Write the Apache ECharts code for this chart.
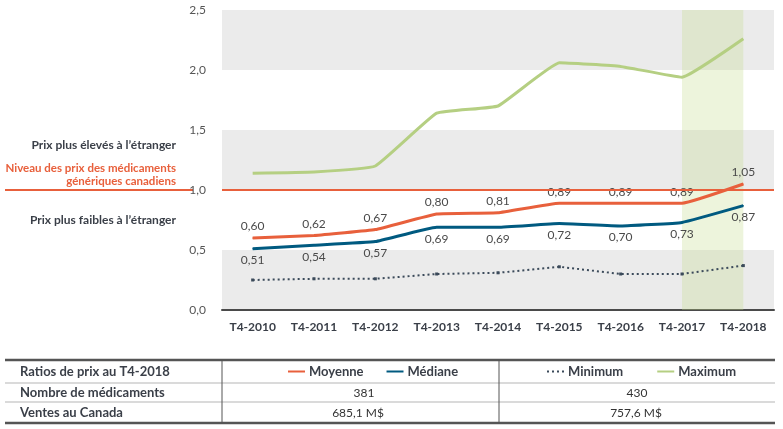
<!DOCTYPE html>
<html>
<head>
<meta charset="utf-8">
<script src="https://cdn.jsdelivr.net/npm/echarts@6/dist/echarts.min.js"></script>
<style>
html,body{margin:0;padding:0;background:#fff;}
#chart{width:783px;height:429px;}
</style>
</head>
<body>
<div id="chart"></div>
<script>
var categories = ['T4-2010','T4-2011','T4-2012','T4-2013','T4-2014','T4-2015','T4-2016','T4-2017','T4-2018'];
var moyenne = [0.60, 0.62, 0.67, 0.80, 0.81, 0.89, 0.89, 0.89, 1.05];
var mediane = [0.51, 0.54, 0.57, 0.69, 0.69, 0.72, 0.70, 0.73, 0.87];
var minimum = [0.25, 0.26, 0.26, 0.30, 0.31, 0.36, 0.30, 0.30, 0.37];
var maximum = [1.14, 1.15, 1.20, 1.64, 1.70, 2.06, 2.03, 1.94, 2.26];
var seriesNames = ['Moyenne','Médiane','Minimum','Maximum'];
var referenceLevel = 1.0;
var highlightRange = ['T4-2017','T4-2018'];
var yTicks = {min: 0, max: 2.5, interval: 0.5};
var tableRowLabels = ['Ratios de prix au T4-2018','Nombre de médicaments','Ventes au Canada'];
var nombreMedicaments = ['381','430'];
var ventesCanada = ['685,1 M$','757,6 M$'];
var sideTexts = ['Prix plus élevés à l\u2019étranger','Niveau des prix des médicaments','génériques canadiens','Prix plus faibles à l\u2019étranger'];

var FONT = 'Lato, "Open Sans", sans-serif';
var C_MOY = '#e8603c', C_MED = '#005a80', C_MIN = '#3b4a5a', C_MAX = '#b5cf82';
var C_TXT = '#3a3f48';

function fmt(v){ return v.toFixed(2).replace('.', ','); }

var chart = echarts.init(document.getElementById('chart'), null, {renderer:'canvas'});

var labelStyle = {color:'#4a4a4a', fontSize:12, fontFamily:FONT};
var legendCommon = {
  top:360, itemWidth:17, itemHeight:12, selectedMode:false,
  itemStyle:{opacity:0, color:'transparent', borderColor:'transparent', borderWidth:0},
  textStyle:{color:C_TXT, fontSize:13, fontWeight:'bold', fontFamily:FONT, padding:[0,0,0,-1]}
};

var option = {
  animation:false,
  backgroundColor:'#fff',
  grid:{left:222, right:9, top:10, bottom:119},
  legend:[
    Object.assign({data:[seriesNames[0], seriesNames[1]], left:282, itemGap:22}, legendCommon),
    Object.assign({data:[seriesNames[2], seriesNames[3]], left:541, itemGap:33}, legendCommon)
  ],
  xAxis:{
    type:'category', data:categories, boundaryGap:true,
    axisLine:{lineStyle:{color:'#4a4a4a', width:2}},
    axisTick:{inside:true, length:7, lineStyle:{color:'#4a4a4a', width:2}},
    axisLabel:{color:C_TXT, fontSize:12, fontWeight:'bold', fontFamily:FONT, margin:11},
    splitLine:{show:false}
  },
  yAxis:{
    type:'value', min:yTicks.min, max:yTicks.max, interval:yTicks.interval,
    axisLine:{show:false}, axisTick:{show:false},
    axisLabel:{color:'#555', fontSize:12, fontFamily:FONT, margin:16,
      formatter:function(v){return v.toFixed(1).replace('.', ',');}},
    splitLine:{show:false},
    splitArea:{show:true, areaStyle:{color:['#ebebeb','#ffffff']}}
  },
  series:[
    {name:seriesNames[0], type:'line', data:moyenne, symbol:'circle', symbolSize:1, showSymbol:true, smooth:0.1,
     lineStyle:{color:C_MOY, width:3}, itemStyle:{color:C_MOY}, z:4,
     label:Object.assign({show:true, position:'top', distance:5, formatter:function(p){return fmt(p.value);}}, labelStyle),
     markLine:{silent:true, symbol:['none','none'], label:{show:false},
       lineStyle:{color:C_MOY, width:2, type:'solid'}, data:[{yAxis:referenceLevel}]}
    },
    {name:seriesNames[1], type:'line', data:mediane, symbol:'circle', symbolSize:1, showSymbol:true, smooth:0.1,
     lineStyle:{color:C_MED, width:3}, itemStyle:{color:C_MED}, z:4,
     label:Object.assign({show:true, position:'bottom', distance:5, formatter:function(p){return fmt(p.value);}}, labelStyle)
    },
    {name:seriesNames[2], type:'line', data:minimum, symbol:'rect', symbolSize:3, showSymbol:true,
     lineStyle:{color:C_MIN, width:2, type:[2,3]}, itemStyle:{color:C_MIN}, z:3},
    {name:seriesNames[3], type:'line', data:maximum, symbol:'none', smooth:0.1,
     lineStyle:{color:C_MAX, width:3}, itemStyle:{color:C_MAX}, z:3,
     markArea:{silent:true, itemStyle:{color:'rgba(195,218,140,0.3)'},
       data:[[{xAxis:highlightRange[0]},{xAxis:highlightRange[1]}]]}
    }
  ]
};
chart.setOption(option);

// Decorations: side annotations, left extension of the reference line, table
var yRef = chart.convertToPixel({yAxisIndex:0}, referenceLevel);
var tl = 5, tr = 775, c1 = 222, c2 = 499;
var rowY = [372, 393, 413];
var lineY = [360, 383, 402, 423];
var gfx = [];
gfx.push({type:'line', shape:{x1:5, y1:yRef, x2:193, y2:yRef}, style:{stroke:C_MOY, lineWidth:2}});
var sideStyle = {fontFamily:FONT, fontSize:12, fontWeight:'bold', align:'right', verticalAlign:'middle'};
gfx.push({type:'text', x:176, y:yRef-45, style:Object.assign({text:sideTexts[0], fill:C_TXT}, sideStyle)});
gfx.push({type:'text', x:176, y:yRef-22, style:Object.assign({text:sideTexts[1], fill:C_MOY}, sideStyle, {fontSize:11.5})});
gfx.push({type:'text', x:176, y:yRef-9, style:Object.assign({text:sideTexts[2], fill:C_MOY}, sideStyle, {fontSize:11.5})});
gfx.push({type:'text', x:176, y:yRef+30, style:Object.assign({text:sideTexts[3], fill:C_TXT}, sideStyle)});
// table lines
gfx.push({type:'line', shape:{x1:tl, y1:lineY[0], x2:tr, y2:lineY[0]}, style:{stroke:'#555', lineWidth:2.5}});
gfx.push({type:'line', shape:{x1:tl, y1:lineY[1], x2:tr, y2:lineY[1]}, style:{stroke:'#b5b5b5', lineWidth:1}});
gfx.push({type:'line', shape:{x1:tl, y1:lineY[2], x2:tr, y2:lineY[2]}, style:{stroke:'#b5b5b5', lineWidth:1}});
gfx.push({type:'line', shape:{x1:tl, y1:lineY[3], x2:tr, y2:lineY[3]}, style:{stroke:'#555', lineWidth:2.5}});
gfx.push({type:'line', shape:{x1:c1, y1:lineY[0], x2:c1, y2:lineY[3]}, style:{stroke:'#555', lineWidth:1}});
gfx.push({type:'line', shape:{x1:c2, y1:lineY[0], x2:c2, y2:lineY[3]}, style:{stroke:'#555', lineWidth:1}});
for (var i=0;i<tableRowLabels.length;i++){
  gfx.push({type:'text', x:20, y:rowY[i], style:{text:tableRowLabels[i], fill:C_TXT, fontFamily:FONT, fontSize:13, fontWeight:'bold', verticalAlign:'middle'}});
}
var valStyle = {fill:'#333', fontFamily:FONT, fontSize:12, align:'center', verticalAlign:'middle'};
gfx.push({type:'text', x:364, y:rowY[1], style:Object.assign({text:nombreMedicaments[0]}, valStyle)});
gfx.push({type:'text', x:637, y:rowY[1], style:Object.assign({text:nombreMedicaments[1]}, valStyle)});
gfx.push({type:'text', x:358, y:rowY[2], style:Object.assign({text:ventesCanada[0]}, valStyle)});
gfx.push({type:'text', x:636, y:rowY[2], style:Object.assign({text:ventesCanada[1]}, valStyle)});
chart.setOption({graphic:gfx});
</script>
</body>
</html>
